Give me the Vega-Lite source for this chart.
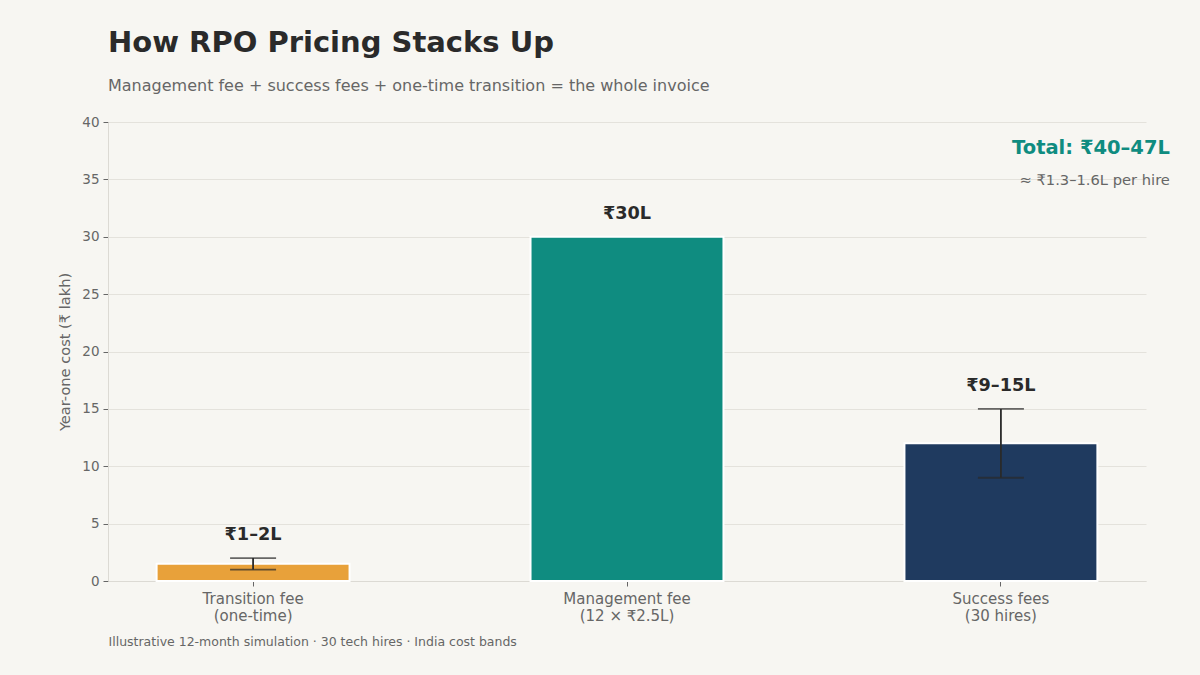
{
  "$schema": "https://vega.github.io/schema/vega-lite/v6.json",
  "width": 1038,
  "height": 459,
  "autosize": {"type": "none"},
  "padding": {"left": 108, "top": 122, "right": 54, "bottom": 94},
  "background": "#F7F6F2",
  "view": {"stroke": null},
  "config": {
    "font": "DejaVu Sans",
    "axis": {
      "labelColor": "#666666",
      "titleColor": "#666666",
      "gridColor": "#E4E2DC",
      "domainColor": "#DCDAD4",
      "tickColor": "#666666",
      "labelFont": "DejaVu Sans",
      "titleFont": "DejaVu Sans",
      "titleFontWeight": "normal"
    }
  },
  "title": {
    "text": "How RPO Pricing Stacks Up",
    "subtitle": "Management fee + success fees + one-time transition = the whole invoice",
    "anchor": "start",
    "frame": "group",
    "fontSize": 29,
    "fontWeight": "bold",
    "color": "#2A2A2A",
    "subtitleFontSize": 16,
    "subtitleColor": "#666666",
    "subtitlePadding": 20,
    "offset": 21
  },
  "data": {
    "values": [
      {"category": "Transition fee|(one-time)", "cost": 1.5, "low": 1, "high": 2, "label": "₹1–2L"},
      {"category": "Management fee|(12 × ₹2.5L)", "cost": 30, "low": null, "high": null, "label": "₹30L"},
      {"category": "Success fees|(30 hires)", "cost": 12, "low": 9, "high": 15, "label": "₹9–15L"}
    ]
  },
  "encoding": {
    "x": {
      "field": "category",
      "type": "nominal",
      "sort": null,
      "scale": {"paddingInner": 0.484, "paddingOuter": 0.13},
      "axis": {
        "title": "Illustrative 12-month simulation · 30 tech hires · India cost bands",
        "titleFontSize": 12.5,
        "titleAnchor": "start",
        "titleAlign": "left",
        "titlePadding": 12,
        "labelAngle": 0,
        "labelFontSize": 15,
        "labelExpr": "split(datum.label, '|')",
        "labelPadding": 5,
        "tickSize": 5
      }
    }
  },
  "layer": [
    {
      "mark": {"type": "bar", "stroke": "white", "strokeWidth": 2},
      "encoding": {
        "y": {
          "field": "cost",
          "type": "quantitative",
          "scale": {"domain": [0, 40]},
          "axis": {
            "title": "Year-one cost (₹ lakh)",
            "titleFontSize": 14.6,
            "titlePadding": 9,
            "labelFontSize": 13.5,
            "tickCount": 8,
            "tickSize": 5,
            "labelPadding": 4
          }
        },
        "color": {
          "field": "category",
          "type": "nominal",
          "scale": {
            "domain": ["Transition fee|(one-time)", "Management fee|(12 × ₹2.5L)", "Success fees|(30 hires)"],
            "range": ["#E8A13A", "#0F8C80", "#1F3A5F"]
          },
          "legend": null
        }
      }
    },
    {
      "transform": [{"filter": "datum.low != null"}],
      "mark": {"type": "rule", "color": "#2A2A2A", "strokeWidth": 1.8},
      "encoding": {"y": {"field": "low", "type": "quantitative"}, "y2": {"field": "high"}}
    },
    {
      "transform": [{"filter": "datum.low != null"}],
      "mark": {"type": "tick", "color": "#2A2A2A", "thickness": 1.8, "size": 46, "orient": "horizontal"},
      "encoding": {"y": {"field": "low", "type": "quantitative"}}
    },
    {
      "transform": [{"filter": "datum.low != null"}],
      "mark": {"type": "tick", "color": "#2A2A2A", "thickness": 1.8, "size": 46, "orient": "horizontal"},
      "encoding": {"y": {"field": "high", "type": "quantitative"}}
    },
    {
      "transform": [{"calculate": "datum.high != null ? datum.high : datum.cost", "as": "top"}],
      "mark": {"type": "text", "fontSize": 17.7, "fontWeight": "bold", "color": "#2A2A2A", "baseline": "middle", "dy": -23},
      "encoding": {
        "y": {"field": "top", "type": "quantitative"},
        "text": {"field": "label"}
      }
    },
    {
      "data": {"values": [{"note": "Total: ₹40–47L"}]},
      "mark": {"type": "text", "fontSize": 19.5, "fontWeight": "bold", "color": "#0F8C80", "align": "right", "baseline": "middle", "dx": 169},
      "encoding": {
        "x": {"datum": "Success fees|(30 hires)"},
        "y": {"datum": 37.75},
        "text": {"field": "note"}
      }
    },
    {
      "data": {"values": [{"note": "≈ ₹1.3–1.6L per hire"}]},
      "mark": {"type": "text", "fontSize": 14.7, "color": "#666666", "align": "right", "baseline": "middle", "dx": 169},
      "encoding": {
        "x": {"datum": "Success fees|(30 hires)"},
        "y": {"datum": 34.85},
        "text": {"field": "note"}
      }
    }
  ]
}
